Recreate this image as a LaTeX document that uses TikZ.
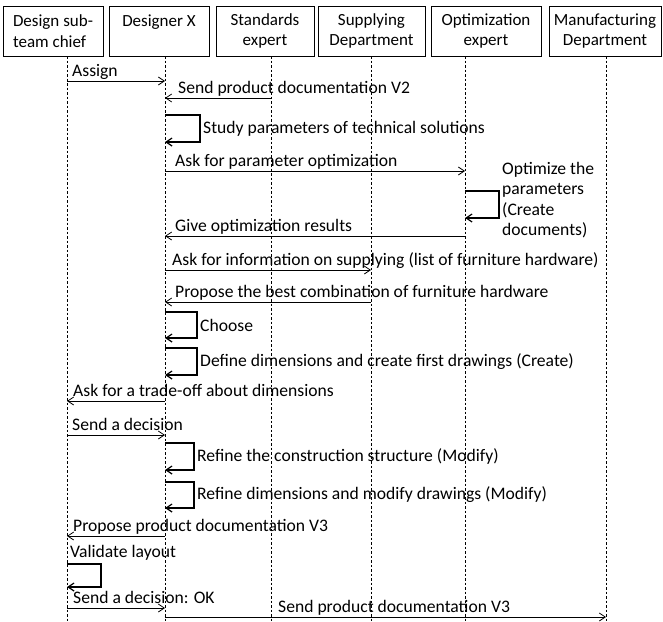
\documentclass[tikz,border=0pt]{standalone}
\usepackage{fontspec}
\setmainfont{Carlito}
\usetikzlibrary{arrows.meta}

\begin{document}
\begin{tikzpicture}[x=1pt, y=-1pt,
    font=\fontsize{17.6}{20.5}\selectfont,
    actor/.style={draw, line width=0.8pt, minimum height=50pt, inner sep=2pt, align=center,
      font=\fontsize{17}{20.5}\selectfont},
    lifeline/.style={line width=0.7pt, dash pattern=on 2.5pt off 2pt},
    msg/.style={line width=0.8pt, -{Straight Barb[length=6pt,width=8pt]}},
    selfmsg/.style={line width=1.2pt, -{Straight Barb[length=6pt,width=8pt]}},
    msgtext/.style={anchor=base west, inner sep=0pt}]
  \useasboundingbox (0,0) rectangle (663,621);

  \node[actor, minimum width=100pt, align=left] (dsc) at (53,31) {Design sub-\\team chief};
  \node[actor, minimum width=100pt] (dx) at (159,31) {Designer X\\~};
  \node[actor, minimum width=98pt] (std) at (265,31) {Standards\\expert};
  \node[actor, minimum width=107pt] (sup) at (371.5,31) {Supplying\\Department};
  \node[actor, minimum width=110pt] (opt) at (486,31) {Optimization\\expert};
  \node[actor, minimum width=112pt] (mfg) at (605,31) {Manufacturing\\Department};

  \foreach \bn/\px in {dsc/67, dx/165, std/271, sup/371, opt/465, mfg/606} {
    \coordinate (\bn-l) at (\px,56);
    \draw[lifeline] (\bn-l) -- (\px,621);
  }

  \foreach \from/\to/\my/\tx/\tag [count=\i] in {
      dsc/dx/81/72/Assign,
      std/dx/98/178/{Send product documentation V2},
      dx/opt/171/175/{Ask for parameter optimization},
      opt/dx/236/175/{Give optimization results},
      dx/sup/270/172/{Ask for information on supplying (list of furniture hardware)},
      sup/dx/302/175/{Propose the best combination of furniture hardware},
      dx/dsc/401/73/{Ask for a trade-off about dimensions},
      dsc/dx/435/72/{Send a decision},
      dx/dsc/536/73/{Propose product documentation V3},
      dsc/dx/608/73/{Send a decision: OK},
      dx/mfg/617/278/{Send product documentation V3}
  } {
    \draw[msg] (\from-l |- 0,\my) -- (\to-l |- 0,\my);
    \node[msgtext] (m\i) at (\tx,\my-5) {\tag};
  }

  \foreach \ll/\tp/\bm/\rx/\tag [count=\i] in {
      dx/115/142/200/{Study parameters of technical solutions},
      dx/312/338/197/Choose,
      dx/348/375/197/{Define dimensions and create first drawings (Create)},
      dx/443/470/194/{Refine the construction structure (Modify)},
      dx/482/508/194/{Refine dimensions and modify drawings (Modify)}
  } {
    \draw[selfmsg] (\ll-l |- 0,\tp) -| (\rx,\bm) -- (\ll-l |- 0,\bm);
    \node[anchor=west, inner sep=0pt] (s\i) at (\rx+3,{(\tp+\bm)/2}) {\tag};
  }

  \draw[selfmsg] (opt-l |- 0,191) -| (499,218) -- (opt-l |- 0,218);
  \node[anchor=west, align=left, inner sep=0pt] (o) at (502,200) {Optimize the\\parameters\\(Create\\documents)};

  \draw[selfmsg] (dsc-l |- 0,564) -| (101,587) -- (dsc-l |- 0,587);
  \node[msgtext] (v) at (70,557) {Validate layout};
\end{tikzpicture}
\end{document}
